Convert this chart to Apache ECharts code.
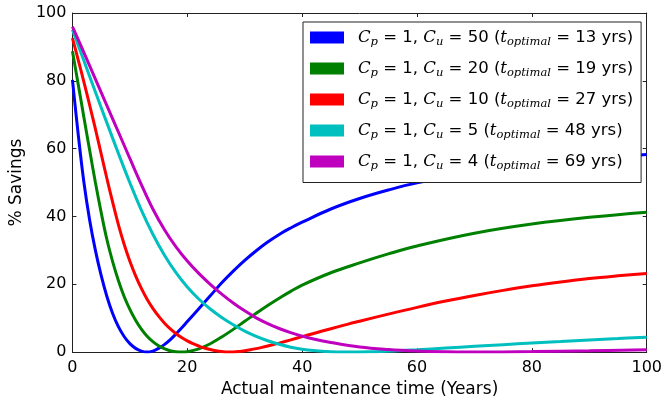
<!DOCTYPE html>
<html>
<head>
<meta charset="utf-8">
<script src="https://cdn.jsdelivr.net/npm/echarts@6/dist/echarts.min.js"></script>
<style>
  html, body { margin: 0; padding: 0; background: #fff; }
  #chart { width: 665px; height: 403px; }
</style>
</head>
<body>
<div id="chart"></div>
<script>
// Percentage savings against the actual maintenance time, one curve per
// unplanned-failure cost C_u (planned cost C_p = 1).
const costUnplanned = [50, 20, 10, 5, 4];
const optimalYears = [13, 19, 27, 48, 69];
const lineColors = ['#0000ff', '#008000', '#ff0000', '#00bfbf', '#bf00bf'];

const xTicks = [0, 20, 40, 60, 80, 100];
const yTicks = [0, 20, 40, 60, 80, 100];

// [years, % savings]
const savingsCu50 = [
  [0, 80.3], [1, 64.3], [2, 50], [3, 38.9], [4, 30.0], [5, 22.6], [6, 16.4],
  [7, 11.4], [8, 7.5], [9, 4.6], [10, 2.5], [11, 1.1], [12, 0.3], [13, 0],
  [14, 0.3], [15, 1.1], [16, 2.2], [17, 3.6], [18, 5.3], [19, 7.1], [20, 9.0],
  [22, 12.8], [24, 16.6], [26, 20.45], [28, 23.9], [30, 27.05], [32, 29.9],
  [34, 32.45], [36, 34.7], [38, 36.6], [40, 38.3], [45, 42.2], [50, 45.3],
  [55, 47.8], [60, 49.9], [70, 53.0], [80, 55.3], [90, 57.0], [100, 58.3]
];
const savingsCu20 = [
  [0, 88.7], [1, 79], [2, 69.2], [3, 59.5], [4, 50], [5, 41.2], [6, 33.2],
  [7, 26.7], [8, 21.1], [9, 16.4], [10, 12.6], [11, 9.4], [12, 6.8], [13, 4.7],
  [14, 3.1], [15, 1.9], [16, 1.0], [17, 0.4], [18, 0.08], [19, 0], [20, 0.12],
  [22, 0.97], [24, 2.47], [26, 4.45], [28, 6.7], [30, 9.07], [32, 11.45],
  [34, 13.75], [36, 15.9], [38, 17.9], [40, 19.75], [45, 23.4], [50, 26.3],
  [55, 28.95], [60, 31.3], [70, 35.05], [80, 37.75], [90, 39.75], [100, 41.25]
];
const savingsCu10 = [
  [0, 92.6], [1, 86.2], [2, 79.6], [3, 72.8], [4, 65.8], [5, 58.5], [6, 51.2],
  [7, 44.2], [8, 37.6], [9, 31.8], [10, 26.8], [11, 22.5], [12, 18.8],
  [13, 15.6], [14, 12.9], [15, 10.6], [16, 8.6], [17, 6.9], [18, 5.5],
  [19, 4.3], [20, 3.3], [21, 2.5], [22, 1.8], [23, 1.2], [24, 0.75], [25, 0.4],
  [26, 0.15], [27, 0], [28, 0.05], [29, 0.2], [30, 0.42], [31, 0.7], [32, 1.03],
  [33, 1.4], [34, 1.8], [35, 2.22], [36, 2.66], [38, 3.6], [40, 4.55],
  [42, 5.5], [45, 6.9], [48, 8.25], [50, 9.1], [55, 11.2], [60, 13.2],
  [65, 15.05], [70, 16.7], [75, 18.2], [80, 19.55], [85, 20.7], [90, 21.7],
  [95, 22.5], [100, 23.2]
];
const savingsCu5 = [
  [0, 95.1], [2, 85.9], [4, 76.7], [6, 67.6], [8, 58.6], [10, 49.95],
  [12, 41.85], [14, 34.75], [16, 28.65], [18, 23.5], [20, 19.2], [22, 15.65],
  [24, 12.7], [26, 10.2], [28, 8.05], [30, 6.2], [32, 4.65], [34, 3.35],
  [36, 2.3], [38, 1.45], [40, 0.85], [42, 0.45], [44, 0.2], [46, 0.05], [48, 0],
  [52, 0.1], [56, 0.35], [60, 0.7], [65, 1.2], [70, 1.7], [75, 2.2], [80, 2.7],
  [85, 3.1], [90, 3.6], [95, 4.0], [100, 4.4]
];
const savingsCu4 = [
  [0, 96], [2, 88.3], [4, 80.5], [6, 72.7], [8, 64.9], [10, 57.1], [12, 49.4],
  [14, 42.2], [16, 36.15], [18, 31.1], [20, 26.85], [22, 23.2], [24, 20.0],
  [26, 17.12], [28, 14.49], [30, 12.16], [32, 10.1], [34, 8.4], [36, 6.96],
  [38, 5.74], [40, 4.71], [42, 3.85], [45, 2.83], [50, 1.5], [55, 0.75],
  [60, 0.3], [65, 0.07], [69, 0], [75, 0.05], [80, 0.15], [90, 0.4], [100, 0.7]
];

const seriesData = [savingsCu50, savingsCu20, savingsCu10, savingsCu5, savingsCu4];
const seriesNames = costUnplanned.map(c => 'Cu' + c);

const chart = echarts.init(document.getElementById('chart'), null, { renderer: 'canvas' });

const axisLineStyle = { color: '#222', width: 1 };
const tickFont = { fontFamily: 'DejaVu Sans', fontSize: 16, color: '#000' };
const nameFont = { fontFamily: 'DejaVu Sans', fontSize: 17, color: '#000' };

const option = {
  animation: false,
  backgroundColor: '#fff',
  grid: { left: 69, right: 17, top: 13, bottom: 50, containLabel: false },
  legend: {
    orient: 'vertical',
    left: 303,
    top: 22,
    padding: [7, 8, 10, 7],
    itemGap: 11.5,
    itemWidth: 34,
    itemHeight: 12,
    icon: 'rect',
    backgroundColor: '#fff',
    borderColor: '#222',
    borderWidth: 1,
    borderRadius: 0,
    data: seriesNames,
    formatter: function (name) {
      const i = seriesNames.indexOf(name);
      return '{m|C}{s|p}{n| = 1, }{m|C}{s|u}{n| = ' + costUnplanned[i] + ' (}{m|t}{s|optimal}{n| = ' +
        optimalYears[i] + ' yrs)}';
    },
    textStyle: {
      padding: [0, 0, 0, 9],
      color: '#000',
      rich: {
        m: { fontFamily: 'DejaVu Serif', fontStyle: 'italic', fontSize: 16.5, lineHeight: 22, color: '#000' },
        s: { fontFamily: 'DejaVu Serif', fontStyle: 'italic', fontSize: 11.5, lineHeight: 13, verticalAlign: 'bottom', color: '#000' },
        n: { fontFamily: 'DejaVu Sans', fontSize: 16.5, lineHeight: 22, color: '#000' }
      }
    }
  },
  xAxis: [
    {
      type: 'value', min: xTicks[0], max: xTicks[xTicks.length - 1], interval: xTicks[1] - xTicks[0],
      position: 'bottom',
      name: 'Actual maintenance time (Years)',
      nameLocation: 'middle', nameGap: 22,
      nameTextStyle: nameFont,
      axisLine: { show: true, onZero: false, lineStyle: axisLineStyle },
      axisTick: { show: true, inside: true, length: 4, lineStyle: axisLineStyle },
      axisLabel: Object.assign({ margin: 8, showMaxLabel: true, showMinLabel: true }, tickFont),
      splitLine: { show: false }
    },
    {
      type: 'value', min: xTicks[0], max: xTicks[xTicks.length - 1], interval: xTicks[1] - xTicks[0],
      position: 'top',
      axisLine: { show: true, onZero: false, lineStyle: axisLineStyle },
      axisTick: { show: true, inside: true, length: 4, lineStyle: axisLineStyle },
      axisLabel: { show: false },
      splitLine: { show: false }
    }
  ],
  yAxis: [
    {
      type: 'value', min: yTicks[0], max: yTicks[yTicks.length - 1], interval: yTicks[1] - yTicks[0],
      position: 'left',
      name: '% Savings',
      nameLocation: 'middle', nameGap: 38,
      nameTextStyle: nameFont,
      axisLine: { show: true, onZero: false, lineStyle: axisLineStyle },
      axisTick: { show: true, inside: true, length: 4, lineStyle: axisLineStyle },
      axisLabel: Object.assign({ margin: 6, showMaxLabel: true, showMinLabel: true }, tickFont),
      splitLine: { show: false }
    },
    {
      type: 'value', min: yTicks[0], max: yTicks[yTicks.length - 1], interval: yTicks[1] - yTicks[0],
      position: 'right',
      axisLine: { show: true, onZero: false, lineStyle: axisLineStyle },
      axisTick: { show: true, inside: true, length: 4, lineStyle: axisLineStyle },
      axisLabel: { show: false },
      splitLine: { show: false }
    }
  ],
  series: seriesData.map((d, i) => ({
    name: seriesNames[i],
    type: 'line',
    xAxisIndex: 0,
    yAxisIndex: 0,
    data: d,
    smooth: 0.4,
    showSymbol: false,
    symbol: 'none',
    color: lineColors[i],
    lineStyle: { width: 3, color: lineColors[i] },
    emphasis: { disabled: true },
    z: 2 + i
  }))
};

chart.setOption(option);
</script>
</body>
</html>
